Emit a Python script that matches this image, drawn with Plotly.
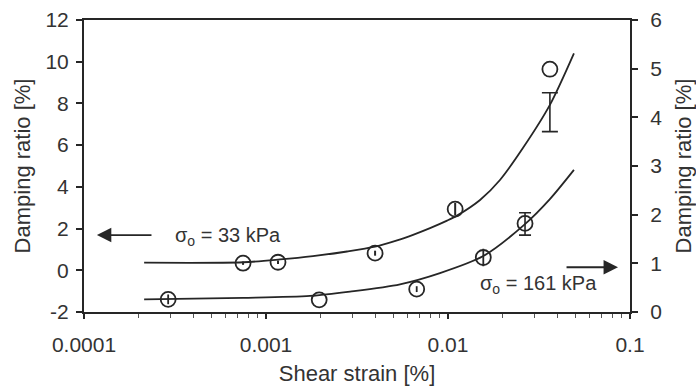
import plotly.graph_objects as go

# Measured damping ratio, sigma_o = 33 kPa (left axis)
strain_33 = [0.000748, 0.001164, 0.003975, 0.01095, 0.0363]
damping_33 = [0.34, 0.385, 0.82, 2.93, 9.64]
err_33 = [0.08, 0.08, 0.12, 0.3, 0.0]

# Measured damping ratio, sigma_o = 161 kPa (right axis)
strain_161 = [0.00029, 0.00196, 0.00673, 0.01563, 0.0265]
damping_161 = [0.26, 0.25, 0.47, 1.12, 1.82]
err_161 = [0.1, 0.0, 0.06, 0.18, 0.0]

# Capped scatter bars
bar_strain_33 = [0.0363]
bar_damping_33 = [7.58]
bar_err_33 = [0.93]
bar_strain_161 = [0.0265]
bar_damping_161 = [1.81]
bar_err_161 = [0.23]

# Fitted trend curves
fit_strain_33 = [0.000214, 0.000748, 0.001194, 0.001812, 0.002786, 0.003975,
                 0.005248, 0.006427, 0.007966, 0.009883, 0.0112, 0.0150,
                 0.0193, 0.0258, 0.0363, 0.0492]
fit_33 = [0.365, 0.385, 0.52, 0.68, 0.90, 1.13, 1.43, 1.70, 2.02, 2.38,
          2.62, 3.37, 4.33, 5.86, 7.93, 10.40]
fit_strain_161 = [0.000214, 0.000748, 0.001746, 0.002897, 0.00545, 0.009035,
                  0.01563, 0.0262, 0.0363, 0.0492]
fit_161 = [0.26, 0.29, 0.33, 0.42, 0.57, 0.80, 1.15, 1.79, 2.32, 2.92]

y_left_ticks = [-2, 0, 2, 4, 6, 8, 10, 12]
y_left_labels = ["-2", "0", "2", "4", "6", "8", "10", "12"]
y_right_ticks = [0, 1, 2, 3, 4, 5, 6]

INK = "#262626"
TEXT = "#333333"
FONT = "Liberation Sans, Arial, sans-serif"

fig = go.Figure()

fig.add_trace(go.Scatter(x=fit_strain_33, y=fit_33, mode="lines",
                         line=dict(color=INK, width=1.8, shape="spline", smoothing=0.8),
                         hoverinfo="skip"))
fig.add_trace(go.Scatter(x=fit_strain_161, y=fit_161, mode="lines", yaxis="y2",
                         line=dict(color=INK, width=1.8, shape="spline", smoothing=0.8),
                         hoverinfo="skip"))

fig.add_trace(go.Scatter(
    x=strain_33, y=damping_33, mode="markers",
    marker=dict(symbol="circle-open", size=15, color=INK, line=dict(width=1.8)),
    error_y=dict(type="data", array=err_33, color=INK, thickness=2, width=0),
))
fig.add_trace(go.Scatter(
    x=strain_161, y=damping_161, mode="markers", yaxis="y2",
    marker=dict(symbol="circle-open", size=15, color=INK, line=dict(width=1.8)),
    error_y=dict(type="data", array=err_161, color=INK, thickness=1.8, width=0),
))

fig.add_trace(go.Scatter(
    x=bar_strain_33, y=bar_damping_33, mode="markers",
    marker=dict(size=1, color="rgba(0,0,0,0)"),
    error_y=dict(type="data", array=bar_err_33, color=INK, thickness=1.6, width=8),
))
fig.add_trace(go.Scatter(
    x=bar_strain_161, y=bar_damping_161, mode="markers", yaxis="y2",
    marker=dict(size=1, color="rgba(0,0,0,0)"),
    error_y=dict(type="data", array=bar_err_161, color=INK, thickness=1.6, width=6),
))

axis_font = dict(family=FONT, size=21, color=TEXT)
title_font = dict(family=FONT, size=22, color=TEXT)

fig.update_layout(
    width=696, height=388,
    margin=dict(l=84, r=66, t=20, b=76, autoexpand=False),
    paper_bgcolor="white", plot_bgcolor="white",
    showlegend=False,
    font=dict(family=FONT, color=INK),
    xaxis=dict(
        type="log", range=[-4, -1], automargin=False,
        dtick=1, tick0=0, exponentformat="none",
        ticks="outside", ticklen=5, tickwidth=1.5, tickcolor=INK,
        ticklabelstandoff=8,
        minor=dict(ticks="outside", ticklen=4, tickwidth=1, tickcolor="#555555",
                   dtick="D1", showgrid=False),
        showline=True, linecolor=INK, linewidth=2, mirror=True,
        showgrid=False, zeroline=False,
        tickfont=axis_font,
        title=dict(text="Shear strain [%]", font=title_font, standoff=10),
    ),
    yaxis=dict(
        range=[-2, 12], tickvals=y_left_ticks, ticktext=y_left_labels,
        automargin=False,
        ticks="outside", ticklen=6, tickwidth=1.5, tickcolor=INK,
        ticklabelstandoff=3,
        showline=True, linecolor=INK, linewidth=2,
        showgrid=False, zeroline=False,
        tickfont=axis_font,
        title=dict(text="Damping ratio [%]", font=title_font, standoff=9),
    ),
    yaxis2=dict(
        range=[0, 6], tickvals=y_right_ticks, overlaying="y", side="right",
        automargin=False,
        ticks="outside", ticklen=6, tickwidth=1.5, tickcolor=INK,
        ticklabelstandoff=8,
        showline=True, linecolor=INK, linewidth=2,
        showgrid=False, zeroline=False,
        tickfont=axis_font,
        title=dict(text="Damping ratio [%]", font=title_font, standoff=19),
    ),
)

# Series labels with pointer arrows toward their axes
fig.add_annotation(x=-3.929, y=1.69, ax=-3.621, ay=1.69, xref="x", yref="y",
                   axref="x", ayref="y", text="", showarrow=True,
                   arrowhead=2, arrowsize=1.6, arrowwidth=1.8, arrowcolor=INK)
fig.add_annotation(x=-3.511, y=1.6, xref="x", yref="y", xanchor="left",
                   text="σ<sub>o</sub> = 33 kPa", showarrow=False,
                   font=dict(family=FONT, size=20, color=TEXT))
fig.add_annotation(x=-1.066, y=0.92, ax=-1.357, ay=0.92, xref="x", yref="y2",
                   axref="x", ayref="y2", text="", showarrow=True,
                   arrowhead=2, arrowsize=1.6, arrowwidth=1.8, arrowcolor=INK)
fig.add_annotation(x=-1.835, y=0.575, xref="x", yref="y2", xanchor="left",
                   text="σ<sub>o</sub> = 161 kPa", showarrow=False,
                   font=dict(family=FONT, size=20, color=TEXT))

fig.write_html("out.html")
